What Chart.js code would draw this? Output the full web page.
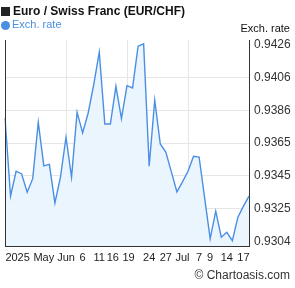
<!DOCTYPE html>
<html><head><meta charset="utf-8">
<script src="https://cdn.jsdelivr.net/npm/chart.js@4/dist/chart.umd.min.js"></script>
<style>
body{margin:0;width:295px;height:288px;overflow:hidden;background:#fff;font-family:"Liberation Sans",Arial,sans-serif;position:relative}
#c{position:absolute;left:0;top:0}
.t{position:absolute;white-space:nowrap}
</style></head><body>
<canvas id="c" width="295" height="288"></canvas>
<div class="t" style="left:1px;top:7px;width:9px;height:9px;background:#222"></div>
<div class="t" style="left:13px;top:4px;font-weight:bold;font-size:12px;color:#111">Euro / Swiss Franc (EUR/CHF)</div>
<div class="t" style="left:1px;top:21px;width:9px;height:9px;border-radius:50%;background:#4a90e2"></div>
<div class="t" style="left:12px;top:18px;font-size:11px;color:#4a90e2">Exch. rate</div>
<div class="t" style="right:5px;top:22px;font-size:11px;color:#111">Exch. rate</div>
<div class="t" style="right:5px;top:268px;font-size:12px;color:#333">© Chartoasis.com</div>
<script>
// x-axis labels: one slot per data point, most are blank
const xLabels = ['', '', ' 2025', '', '', '', '', 'May', '', '', '', 'Jun', '', '', '6', '', '', '11', '', '', '16  ', '', ' 19', '', '', '', '24', '', '', '27', '', '', 'Jul', '', '', '7', '', '9', '', '', '14', '', '', '17', ''];
const rates = [0.93807, 0.93324, 0.93478, 0.93461, 0.93348, 0.93432, 0.93781, 0.93511, 0.93521, 0.93282,
  0.93441, 0.93688, 0.93441, 0.93843, 0.93715, 0.93838, 0.94013, 0.94214, 0.93770, 0.93770,
  0.94003, 0.93803, 0.94007, 0.93993, 0.94251, 0.94265, 0.93509, 0.93917, 0.93647, 0.93597,
  0.93474, 0.93350, 0.93412, 0.93478, 0.93571, 0.93566, 0.93313, 0.93060, 0.93231, 0.93070,
  0.93101, 0.93049, 0.93194, 0.93262, 0.93324];
const yTickValues = [0.93042, 0.93245, 0.93449, 0.93652, 0.93855, 0.94059, 0.94262];
const yTickLabels = ['0.9304', '0.9325', '0.9345', '0.9365', '0.9386', '0.9406', '0.9426'];
const yMin = 0.93016, yMax = 0.94289;

const leftBorder = {
  id: 'leftBorder',
  afterDraw(chart) {
    const {ctx, chartArea} = chart;
    ctx.save();
    ctx.strokeStyle = '#333';
    ctx.lineWidth = 1;
    ctx.beginPath();
    ctx.moveTo(chartArea.left + 0.5, chartArea.top);
    ctx.lineTo(chartArea.left + 0.5, chartArea.bottom);
    ctx.stroke();
    ctx.restore();
  }
};

new Chart(document.getElementById('c'), {
  type: 'line',
  data: {
    labels: xLabels,
    datasets: [{
      label: 'Exch. rate',
      data: rates,
      borderColor: '#4a8fe3',
      backgroundColor: '#ebf5fe',
      borderWidth: 1.4,
      pointRadius: 0,
      fill: 'start',
      tension: 0
    }]
  },
  options: {
    responsive: false,
    animation: false,
    devicePixelRatio: 1,
    layout: {padding: {top: 40, left: 0, right: 0, bottom: 0}},
    plugins: {legend: {display: false}, title: {display: false}, tooltip: {enabled: false}},
    scales: {
      x: {
        type: 'category',
        offset: false,
        grid: {
          drawTicks: false,
          color: (c) => (c.index > 0 && c.index < xLabels.length - 1 && c.index % 11 === 0) ? '#e6e6e6' : 'rgba(0,0,0,0)',
          lineWidth: 1
        },
        border: {display: true, color: '#333', width: 1},
        ticks: {
          autoSkip: false, maxRotation: 0, minRotation: 0, padding: 5,
          color: '#222',
          font: {family: '"Liberation Sans", Arial, sans-serif', size: 11}
        },
        afterFit: (s) => { s.height = 42; }
      },
      y: {
        position: 'right',
        min: yMin,
        max: yMax,
        afterBuildTicks: (s) => { s.ticks = yTickValues.map(v => ({value: v})); },
        grid: {
          drawTicks: false,
          color: (c) => (c.index > 0 && c.index < yTickValues.length - 1) ? '#e6e6e6' : 'rgba(0,0,0,0)'
        },
        border: {display: true, color: '#333', width: 1},
        ticks: {
          padding: 5,
          color: '#333',
          font: {family: '"Liberation Sans", Arial, sans-serif', size: 12},
          callback: (v, i) => yTickLabels[i]
        },
        afterFit: (s) => { s.width = 46; }
      }
    }
  },
  plugins: [leftBorder]
});
</script>
</body></html>
